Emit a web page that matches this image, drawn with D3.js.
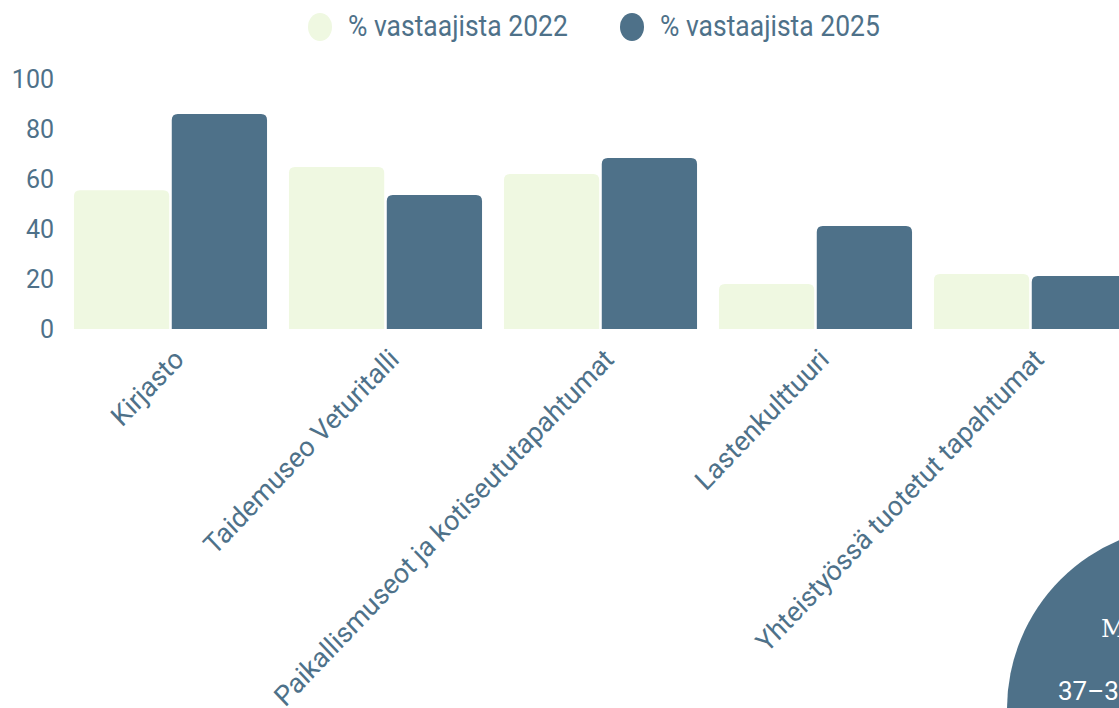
<!DOCTYPE html>
<html>
<head>
<meta charset="utf-8">
<script src="https://cdn.jsdelivr.net/npm/d3@7"></script>
<style>
  html, body { margin: 0; padding: 0; background: #ffffff; overflow: hidden; }
  #chart { width: 1119px; height: 708px; }
</style>
</head>
<body>
<div id="chart"></div>
<script>
// data
const categories = ["Kirjasto", "Taidemuseo Veturitalli", "Paikallismuseot ja kotiseututapahtumat", "Lastenkulttuuri", "Yhteistyössä tuotetut tapahtumat"];
const series = ["% vastaajista 2022", "% vastaajista 2025"];
const values2022 = [55.5, 64.8, 62, 18, 22];
const values2025 = [86, 53.6, 68.4, 41.2, 21.2];
const yTicks = [0, 20, 40, 60, 80, 100];
const badgeLines = ["Mediaani-ikä", "37–39 vuotta"];

function drawChart(containerId) {
  const container = d3.select(containerId);
  const width = 1119, height = 708;

  const colorDark = "#4e7189";
  const colorLight = "#eff8e1";
  const textColor = "#4e7189";

  const svg = container.append("svg")
    .attr("width", width)
    .attr("height", height);

  // scales - the plot runs off the right edge like in the original
  const x0 = d3.scaleBand()
    .domain(categories)
    .range([63, 63 + 215 * categories.length])
    .paddingInner(0.102)
    .paddingOuter(0.051);

  const x1 = d3.scaleBand()
    .domain(series)
    .range([0, x0.bandwidth()])
    .paddingInner(0.026);

  const y = d3.scaleLinear().domain([0, 100]).range([329, 79]);

  const colors = d3.scaleOrdinal().domain(series).range([colorLight, colorDark]);

  // y axis (labels only)
  const yAxis = svg.append("g")
    .attr("transform", "translate(54,0)")
    .call(d3.axisLeft(y).tickValues(yTicks).tickSize(0).tickPadding(0));
  yAxis.select(".domain").remove();
  yAxis.selectAll("text")
    .attr("fill", textColor)
    .style("font-family", "Roboto, sans-serif")
    .style("font-size", "25px");

  // bars with rounded tops
  const topRounded = (x, yTop, w, h, r) => {
    r = Math.min(r, h, w / 2);
    return `M${x},${yTop + h}V${yTop + r}Q${x},${yTop} ${x + r},${yTop}H${x + w - r}Q${x + w},${yTop} ${x + w},${yTop + r}V${yTop + h}Z`;
  };

  const rows = categories.map((c, i) => ({ cat: c, vals: [values2022[i], values2025[i]] }));

  const groups = svg.append("g").selectAll("g")
    .data(rows)
    .join("g")
    .attr("transform", d => `translate(${x0(d.cat)},0)`);

  groups.selectAll("path")
    .data(d => d.vals.map((v, j) => ({ key: series[j], v })))
    .join("path")
    .attr("d", d => topRounded(x1(d.key), y(d.v), x1.bandwidth(), y(0) - y(d.v), 6))
    .attr("fill", d => colors(d.key));

  // rotated category labels (slightly taller than wide, as in the original)
  const xAxis = svg.append("g")
    .attr("transform", "translate(0,361)")
    .call(d3.axisBottom(x0).tickSize(0).tickPadding(0));
  xAxis.select(".domain").remove();
  xAxis.selectAll("text")
    .attr("fill", textColor)
    .style("font-family", "Roboto, sans-serif")
    .style("font-size", "26.5px")
    .attr("text-anchor", "end")
    .attr("y", 0)
    .attr("dy", 0)
    .attr("transform", "translate(15,0) scale(1,1.05) rotate(-45)");

  // legend
  const legend = svg.append("g");
  const legendX = [320, 632];
  series.forEach((s, i) => {
    legend.append("ellipse")
      .attr("cx", legendX[i]).attr("cy", 27)
      .attr("rx", 12).attr("ry", 14)
      .attr("fill", colors(s));
    legend.append("text")
      .attr("transform", `translate(${legendX[i] + 28},36) scale(1,1.1)`)
      .attr("fill", textColor)
      .style("font-family", "Roboto, sans-serif")
      .style("font-size", "26.5px")
      .text(s);
  });

  // badge in the bottom right corner
  svg.append("circle")
    .attr("cx", 1190).attr("cy", 709).attr("r", 183)
    .attr("fill", colorDark);
  svg.append("text")
    .attr("x", 1101).attr("y", 637)
    .attr("fill", "#ffffff")
    .style("font-family", "'DejaVu Serif', serif")
    .style("font-size", "24px")
    .text(badgeLines[0]);
  svg.append("text")
    .attr("x", 1058).attr("y", 700)
    .attr("fill", "#ffffff")
    .style("font-family", "Roboto, sans-serif")
    .style("font-size", "26px")
    .text(badgeLines[1]);
}

drawChart("#chart");
</script>
</body>
</html>
